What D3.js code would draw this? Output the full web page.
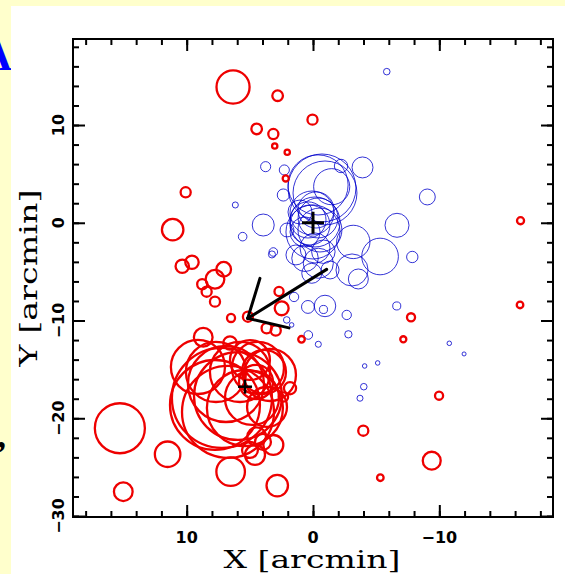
<!DOCTYPE html>
<html>
<head>
<meta charset="utf-8">
<script src="https://cdn.jsdelivr.net/npm/d3@7"></script>
<style>
body{margin:0;background:#fff}
</style>
</head>
<body>
<svg id="chart" width="565" height="574"></svg>
<script>
// red sources: [x, y, r] in arcmin
let redSources = [
	[6.33,13.89,1.31],[2.80,13.00,0.42],[0.04,10.55,0.40],[4.46,9.60,0.42],[3.14,9.08,0.40],
	[3.03,7.86,0.21],[2.04,7.21,0.21],[2.16,4.53,0.24],[10.08,3.12,0.40],[11.11,-0.71,0.85],
	[10.35,-4.45,0.53],[9.58,-4.04,0.53],[7.07,-4.76,0.58],[7.76,-5.78,0.74],[8.77,-6.29,0.40],
	[8.42,-7.05,0.40],[7.76,-8.07,0.40],[6.49,-9.74,0.32],[5.15,-9.61,0.40],[2.69,-7.03,0.36],
	[2.48,-8.75,0.55],[0.91,-11.92,0.26],[3.67,-10.79,0.40],[2.95,-11.02,0.40],[-16.43,0.21,0.28],
	[-16.39,-8.41,0.26],[-7.76,-9.67,0.32],[-7.15,-11.92,0.24],[-9.98,-17.69,0.32],[-3.98,-21.27,0.40],
	[-9.40,-24.34,0.71],[-5.33,-26.08,0.26],[15.29,-21.02,1.98],[11.51,-23.68,1.01],[15.02,-27.51,0.74],
	[6.52,-25.46,1.13],[2.83,-26.89,0.85],[1.82,-16.93,0.48],[2.34,-17.82,0.37],[8.69,-11.71,0.74],
	[6.57,-12.30,0.53],[3.14,-22.73,0.79],[4.59,-23.75,0.79],[4.46,-21.88,0.74],[4.99,-23.24,0.63],
	[3.96,-22.42,0.63],
	// the southern clump
	[9.11,-14.75,2.14],[7.76,-18.64,3.56],[7.21,-17.92,3.96],[6.73,-19.35,3.64],[5.94,-17.72,3.48],
	[5.39,-18.95,3.01],[6.89,-16.49,3.01],[4.36,-14.85,2.06],[3.88,-15.26,1.74],[4.51,-16.29,1.35],
	[4.83,-17.92,2.14],[3.64,-18.84,1.58],[5.78,-15.26,2.38],[7.68,-15.26,2.38],[4.99,-14.04,1.58],
	[3.41,-15.57,2.06]
]
// blue sources: [x, y, r] in arcmin
let blueSources = [
	[-5.84,15.46,0.26],[3.75,5.74,0.40],[2.27,5.40,0.40],[6.15,1.82,0.24],[3.94,-0.23,0.87],
	[5.57,-1.42,0.34],[3.14,-2.99,0.34],[3.25,-3.24,0.28],[2.35,2.84,0.48],[2.06,-0.74,0.55],
	[-3.92,5.66,0.83],[-2.22,5.81,0.53],[-9.05,2.64,0.63],[-6.65,-0.26,0.95],[-5.31,-3.45,1.45],
	[-7.86,-3.50,0.45],[-3.09,-4.83,1.27],[-3.59,-5.75,0.79],[-3.19,-1.96,1.32],[-0.71,3.56,2.69],
	[-0.40,3.87,2.38],[-0.95,3.05,2.53],[-1.48,3.69,1.43],[0.08,1.00,1.74],[-0.16,0.08,1.98],
	[0.24,-0.23,1.58],[-0.40,0.49,1.58],[0.40,0.29,1.43],[-0.55,-0.74,1.74],[0,-0.94,2.14],
	[-0.24,1.31,1.43],[0.63,-0.94,1.19],[1.03,1.10,0.95],[-0.16,-2.58,1.19],[-0.82,-2.96,0.93],
	[1.35,-3.29,0.79],[0.10,-5.17,0.79],[0.63,-3.63,1.05],[-0.42,-4.14,1.19],[-1.35,-4.83,0.71],
	[0.40,-8.61,0.51],[-0.95,-8.51,0.85],[-0.83,-8.87,0.32],[1.50,-7.59,0.37],[2.08,-9.94,0.26],
	[1.69,-10.45,0.18],[-2.67,-9.43,0.37],[-6.63,-8.51,0.32],[-2.80,-11.41,0.29],[0.37,-11.48,0.34],
	[-0.42,-12.43,0.24],[-10.79,-12.33,0.18],[-11.96,-13.42,0.16],[-4.09,-14.65,0.18],[-5.12,-14.34,0.18],
	[-4.02,-16.77,0.26],[-3.72,-17.95,0.24]
]
// cluster centres
let centres = [[0,0,"big"],[5.38,-16.77,"small"]]
// arrow: shaft start, tip, two barbs
let arrowShaft = [[-1.08,-4.77],[5.17,-9.78]]
let arrowBarbs = [[4.2,-5.69],[1.9,-10.75]]

let xMajor = [10,0,-10]
let yMajor = [10,0,-10,-20,-30]
let xMinor = d3.range(-18,19,2)
let yMinor = d3.range(-30,19,2)

let svg = d3.select("#chart")
let W = 565, H = 574
let mLeft = 73, mRight = 553, mTop = 39, mBottom = 517

let x = d3.scaleLinear().domain([19,-19]).range([mLeft,mRight])
let y = d3.scaleLinear().domain([-30.1,18.8]).range([mBottom,mTop])
let rpx = r => Math.abs(x(r)-x(0))

// yellow page with bits of neighbouring text
svg.append("rect").attr("width",W).attr("height",H).attr("fill","#ffffcc")
svg.append("text")
	.attr("x",12).attr("y",70)
	.attr("text-anchor","end")
	.attr("font-family","Liberation Serif").attr("font-weight","bold")
	.attr("font-size",44).attr("fill","#0000ff")
	.text("A")
svg.append("text")
	.attr("x",-3).attr("y",447)
	.attr("font-family","Liberation Serif").attr("font-weight","bold")
	.attr("font-size",36).attr("fill","#000")
	.text(",")
svg.append("rect").attr("x",11).attr("y",6).attr("width",W-11).attr("height",H-6).attr("fill","#fff")

// circles
svg.append("g")
	.selectAll("circle").data(blueSources).join("circle")
	  .attr("cx",d=>x(d[0])).attr("cy",d=>y(d[1])).attr("r",d=>rpx(d[2]))
	  .attr("fill","none").attr("stroke","#0000cc").attr("stroke-width",0.8)
svg.append("g")
	.selectAll("circle").data(redSources).join("circle")
	  .attr("cx",d=>x(d[0])).attr("cy",d=>y(d[1])).attr("r",d=>rpx(d[2]))
	  .attr("fill","none").attr("stroke","#ee0000").attr("stroke-width",2.3)

// arrow
let tip = arrowShaft[1]
let ag = svg.append("g").attr("stroke","#000").attr("stroke-width",3).attr("stroke-linecap","round")
ag.append("line")
	.attr("x1",x(arrowShaft[0][0])).attr("y1",y(arrowShaft[0][1]))
	.attr("x2",x(tip[0])).attr("y2",y(tip[1]))
ag.selectAll("line.barb").data(arrowBarbs).join("line")
	.attr("class","barb")
	.attr("x1",x(tip[0])).attr("y1",y(tip[1]))
	.attr("x2",d=>x(d[0])).attr("y2",d=>y(d[1]))

// plus marks
centres.forEach(c=>{
	let s = c[2]==="big" ? 11 : 7
	let cx = x(c[0]), cy = y(c[1])
	let g = svg.append("g").attr("stroke","#000").attr("stroke-width",c[2]==="big"?3:2.5)
	g.append("line").attr("x1",cx-s).attr("x2",cx+s).attr("y1",cy).attr("y2",cy)
	g.append("line").attr("x1",cx).attr("x2",cx).attr("y1",cy-s).attr("y2",cy+s)
})

// axes: inward ticks on all four sides
function ticks(axis, tx, ty, vals, size){
	let g = svg.append("g").attr("transform",`translate(${tx},${ty})`)
		.call(axis.tickValues(vals).tickSize(-size).tickFormat(""))
	g.select(".domain").remove()
	g.selectAll("line").attr("stroke","#000").attr("stroke-width",2)
	return g
}
ticks(d3.axisBottom(x),0,mBottom,xMinor,6)
ticks(d3.axisBottom(x),0,mBottom,xMajor,12)
ticks(d3.axisTop(x),0,mTop,xMinor,6)
ticks(d3.axisTop(x),0,mTop,xMajor,12)
ticks(d3.axisLeft(y),mLeft,0,yMinor,6)
ticks(d3.axisLeft(y),mLeft,0,yMajor,12)
ticks(d3.axisRight(y),mRight,0,yMinor,6)
ticks(d3.axisRight(y),mRight,0,yMajor,12)

svg.append("rect")
	.attr("x",mLeft).attr("y",mTop).attr("width",mRight-mLeft).attr("height",mBottom-mTop)
	.attr("fill","none").attr("stroke","#000").attr("stroke-width",2)

// tick labels
let fmt = d3.format("d")
svg.append("g").selectAll("text").data(xMajor).join("text")
	.attr("x",d=>x(d)).attr("y",543)
	.attr("text-anchor","middle")
	.attr("font-family","DejaVu Sans").attr("font-weight","bold").attr("font-size",16)
	.text(d=>fmt(d))
svg.append("g").selectAll("text").data(yMajor).join("text")
	.attr("transform",d=>`translate(64,${y(d)}) rotate(-90)`)
	.attr("text-anchor","middle")
	.attr("font-family","DejaVu Sans").attr("font-weight","bold").attr("font-size",16)
	.text(d=>fmt(d))

// axis titles
svg.append("text")
	.attr("x",312).attr("y",568)
	.attr("text-anchor","middle")
	.attr("font-family","DejaVu Serif").attr("font-size",25)
	.attr("textLength",177).attr("lengthAdjust","spacingAndGlyphs")
	.text("X [arcmin]")
svg.append("text")
	.attr("transform",`translate(37,${(mTop+mBottom)/2}) rotate(-90)`)
	.attr("text-anchor","middle")
	.attr("font-family","DejaVu Serif").attr("font-size",25)
	.attr("textLength",177).attr("lengthAdjust","spacingAndGlyphs")
	.text("Y [arcmin]")
</script>
</body>
</html>
